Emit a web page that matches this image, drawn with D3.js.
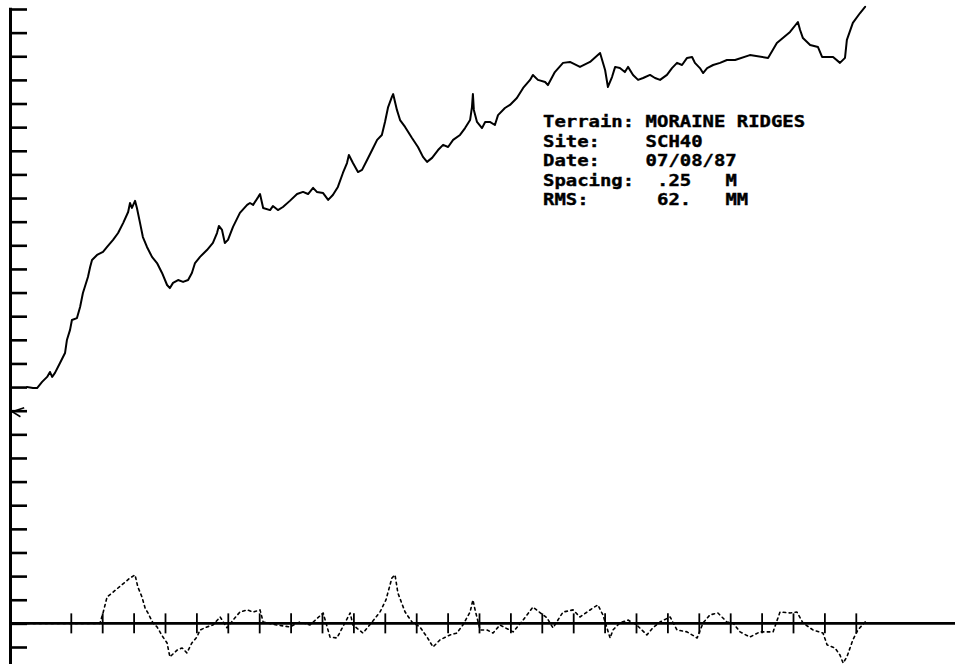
<!DOCTYPE html>
<html><head><meta charset="utf-8">
<script src="https://cdn.jsdelivr.net/npm/d3@7"></script>
<style>html,body{margin:0;padding:0;background:#fff;}svg{display:block;}</style>
</head><body><svg id="c" width="955" height="667"></svg>
<script>
// Terrain profile (distance in axis units, elevation in axis units)
const profileX = [0.59,0.78,0.91,1.07,1.23,1.32,1.39,1.48,1.64,1.80,1.86,1.96,2.02,2.18,2.28,2.37,2.53,2.60,2.66,2.82,3.01,3.14,3.33,3.49,3.65,3.81,3.87,3.93,4.03,4.09,4.19,4.28,4.41,4.57,4.73,4.89,5.05,5.14,5.24,5.40,5.56,5.72,5.84,5.94,6.10,6.32,6.51,6.64,6.70,6.80,6.89,6.99,7.15,7.37,7.60,7.69,7.79,7.95,8.01,8.11,8.33,8.42,8.58,8.74,8.96,9.19,9.38,9.54,9.70,9.82,10.02,10.18,10.33,10.49,10.65,10.78,10.84,10.97,11.13,11.26,11.42,11.58,11.74,11.89,11.99,12.09,12.21,12.25,12.37,12.47,12.63,12.85,13.04,13.20,13.33,13.49,13.68,13.84,14.00,14.16,14.38,14.54,14.70,14.76,14.79,14.82,14.92,15.08,15.18,15.33,15.49,15.59,15.81,15.97,16.19,16.39,16.61,16.70,16.86,17.09,17.18,17.40,17.66,17.88,18.20,18.52,18.84,19.00,19.09,19.22,19.32,19.47,19.63,19.73,19.89,20.05,20.21,20.43,20.59,20.75,20.97,21.13,21.29,21.45,21.61,21.77,21.86,22.02,22.12,22.25,22.44,22.66,22.88,23.14,23.61,24.19,24.47,24.89,25.14,25.21,25.30,25.53,25.78,25.91,26.26,26.48,26.64,26.70,26.89,27.12,27.28];
const profileY = [10.00,9.96,9.96,10.22,10.43,10.64,10.43,10.60,11.02,11.44,11.99,12.42,12.84,12.92,13.39,13.98,14.66,15.08,15.38,15.59,15.72,15.93,16.23,16.52,16.94,17.41,17.79,17.58,17.88,17.58,16.94,16.35,15.93,15.51,15.25,14.83,14.32,14.19,14.41,14.53,14.45,14.53,14.83,15.25,15.51,15.80,16.10,16.52,16.82,16.65,16.10,16.23,16.78,17.37,17.71,17.79,17.71,18.04,18.17,17.58,17.49,17.66,17.49,17.62,17.88,18.17,18.26,18.17,18.43,18.26,18.21,17.92,18.13,18.47,19.06,19.48,19.82,19.48,19.10,19.19,19.61,20.03,20.46,20.67,21.22,21.85,22.28,22.40,21.73,21.30,21.01,20.54,20.16,19.74,19.53,19.70,20.03,20.25,20.16,20.46,20.67,20.96,21.30,21.85,22.40,21.73,21.22,20.96,21.22,21.22,21.09,21.51,21.81,21.94,22.23,22.66,23.00,23.21,23.00,22.91,22.78,23.33,23.72,23.76,23.55,23.76,24.14,23.42,22.70,23.12,23.55,23.50,23.33,23.55,23.21,23.00,23.08,23.21,23.08,23.00,23.21,23.50,23.72,23.63,23.93,23.97,23.72,23.50,23.29,23.50,23.63,23.72,23.84,23.84,24.05,23.93,24.56,25.03,25.45,25.11,24.77,24.48,24.39,23.97,23.97,23.72,23.93,24.69,25.41,25.83,26.09];

// Detrended residual series
const residualX = [0.59,1.64,2.91,3.01,3.14,3.30,3.61,3.87,4.03,4.12,4.25,4.35,4.44,4.60,4.73,4.92,5.05,5.14,5.37,5.53,5.68,5.84,6.00,6.10,6.32,6.51,6.74,6.96,7.15,7.37,7.60,7.79,8.01,8.11,8.55,8.96,9.28,9.60,10.02,10.24,10.46,10.88,10.97,11.29,11.58,11.83,12.02,12.21,12.31,12.40,12.63,12.85,13.10,13.33,13.52,13.74,14.06,14.28,14.47,14.70,14.79,14.86,15.02,15.24,15.43,15.65,16.07,16.39,16.70,17.15,17.34,17.66,17.98,18.20,18.61,18.77,18.93,19.16,19.25,19.47,19.73,20.01,20.33,20.52,20.75,21.07,21.29,21.61,21.93,22.12,22.34,22.59,22.88,23.07,23.30,23.61,23.93,24.35,24.57,24.89,25.11,25.30,25.62,25.94,26.07,26.32,26.48,26.58,26.70,26.89,27.05,27.28];
const residualY = [0,0,0,0.44,1.12,1.29,1.63,1.92,2.05,1.54,1.12,0.65,0.44,0.02,-0.15,-0.58,-0.83,-1.42,-1.13,-1.04,-1.25,-0.83,-0.58,-0.28,-0.15,-0.07,0.27,-0.19,0.14,0.48,0.57,0.48,0.57,0.06,-0.07,-0.15,0.06,-0.07,0.44,-0.58,-0.62,0.44,-0.07,-0.41,0.06,0.48,0.99,1.92,2.05,1.29,0.48,0.06,-0.15,-0.58,-1.00,-0.70,-0.49,-0.41,-0.07,0.48,0.99,0.57,-0.28,-0.28,-0.41,-0.07,-0.36,0.14,0.69,0.23,-0.19,0.48,0.57,0.27,0.65,0.78,0.36,-0.62,-0.28,0.02,0.14,-0.07,-0.49,-0.19,0.06,0.27,-0.28,-0.36,-0.62,0.02,0.36,0.44,0.06,0.02,-0.36,-0.58,-0.36,-0.36,0.48,0.44,0.48,0.02,-0.28,-0.41,-0.91,-1.04,-1.34,-1.68,-1.42,-0.70,-0.28,0.06];

const yTickValues = d3.range(-1, 27);
const xTickValues = d3.range(2, 28);
const startMarker = 9;

const infoLabels = ["Terrain:", "Site:", "Date:", "Spacing:", "RMS:"];
const infoValues = [["MORAINE RIDGES"], ["SCH40"], ["07/08/87"], [".25", "M"], ["62.", "MM"]];
const infoCols = [[9], [9], [9], [10, 16], [10, 16]];

const svg = d3.select("#c");
const x = d3.scaleLinear().domain([0, 30]).range([8.5, 950.5]);
const y = d3.scaleLinear().domain([-1, 26]).range([647, 9]);

// left axis
svg.append("line").attr("x1", 10.5).attr("x2", 10.5)
  .attr("y1", y(26.05)).attr("y2", y(-1.72))
  .attr("stroke", "#000").attr("stroke-width", 3);
const ya = svg.append("g").attr("transform", "translate(10,0)")
  .call(d3.axisRight(y).tickValues(yTickValues).tickSize(17).tickFormat(""));
ya.select(".domain").remove();
ya.selectAll(".tick line").attr("stroke", "#000").attr("stroke-width", 2.6);

// start marker
svg.append("path")
  .attr("d", `M${x(0.5)},${y(startMarker) - 3} L${x(0.12)},${y(startMarker) + 1} L${x(0.38)},${y(startMarker) + 6}`)
  .attr("fill", "none").attr("stroke", "#000").attr("stroke-width", 1.6);

// bottom zero axis
svg.append("line").attr("x1", 10).attr("x2", 955)
  .attr("y1", y(0)).attr("y2", y(0))
  .attr("stroke", "#000").attr("stroke-width", 2.8);
svg.append("g").selectAll("line").data(xTickValues).join("line")
  .attr("x1", d => x(d)).attr("x2", d => x(d))
  .attr("y1", y(0) - 10).attr("y2", y(0) + 10)
  .attr("stroke", "#000").attr("stroke-width", 1.8);

const line = d3.line().x(d => x(d[0])).y(d => y(d[1])).curve(d3.curveLinear);

svg.append("path")
  .attr("d", line(profileX.map((v, i) => [v, profileY[i]])))
  .attr("fill", "none").attr("stroke", "#000").attr("stroke-width", 2)
  .attr("stroke-linejoin", "round").attr("stroke-linecap", "round");

svg.append("path")
  .attr("d", line(residualX.map((v, i) => [v, residualY[i]])))
  .attr("fill", "none").attr("stroke", "#000").attr("stroke-width", 1.6)
  .attr("stroke-dasharray", "2.5,3.5")
  .attr("stroke-linejoin", "round").attr("stroke-linecap", "round");

// info block: monospace columns, sized so the lines do not overlap
const charW = 11.4, tx0 = 543;
const fs = 16.2, adv = 0.602 * fs, sx = charW / adv;
const baselines = [127.5, 146.8, 166.1, 185.6, 205];
const t = svg.append("g")
  .attr("transform", `translate(${tx0},0) scale(${sx},1)`)
  .attr("font-family", "'DejaVu Sans Mono', monospace")
  .attr("font-weight", "bold").attr("font-size", fs).attr("fill", "#000")
  .attr("stroke", "#000").attr("stroke-width", 0.4);
infoLabels.forEach((lab, i) => {
  t.append("text").attr("x", 0).attr("y", baselines[i]).text(lab);
  infoValues[i].forEach((v, j) => {
    t.append("text").attr("x", infoCols[i][j] * adv).attr("y", baselines[i]).text(v);
  });
});
</script></body></html>
